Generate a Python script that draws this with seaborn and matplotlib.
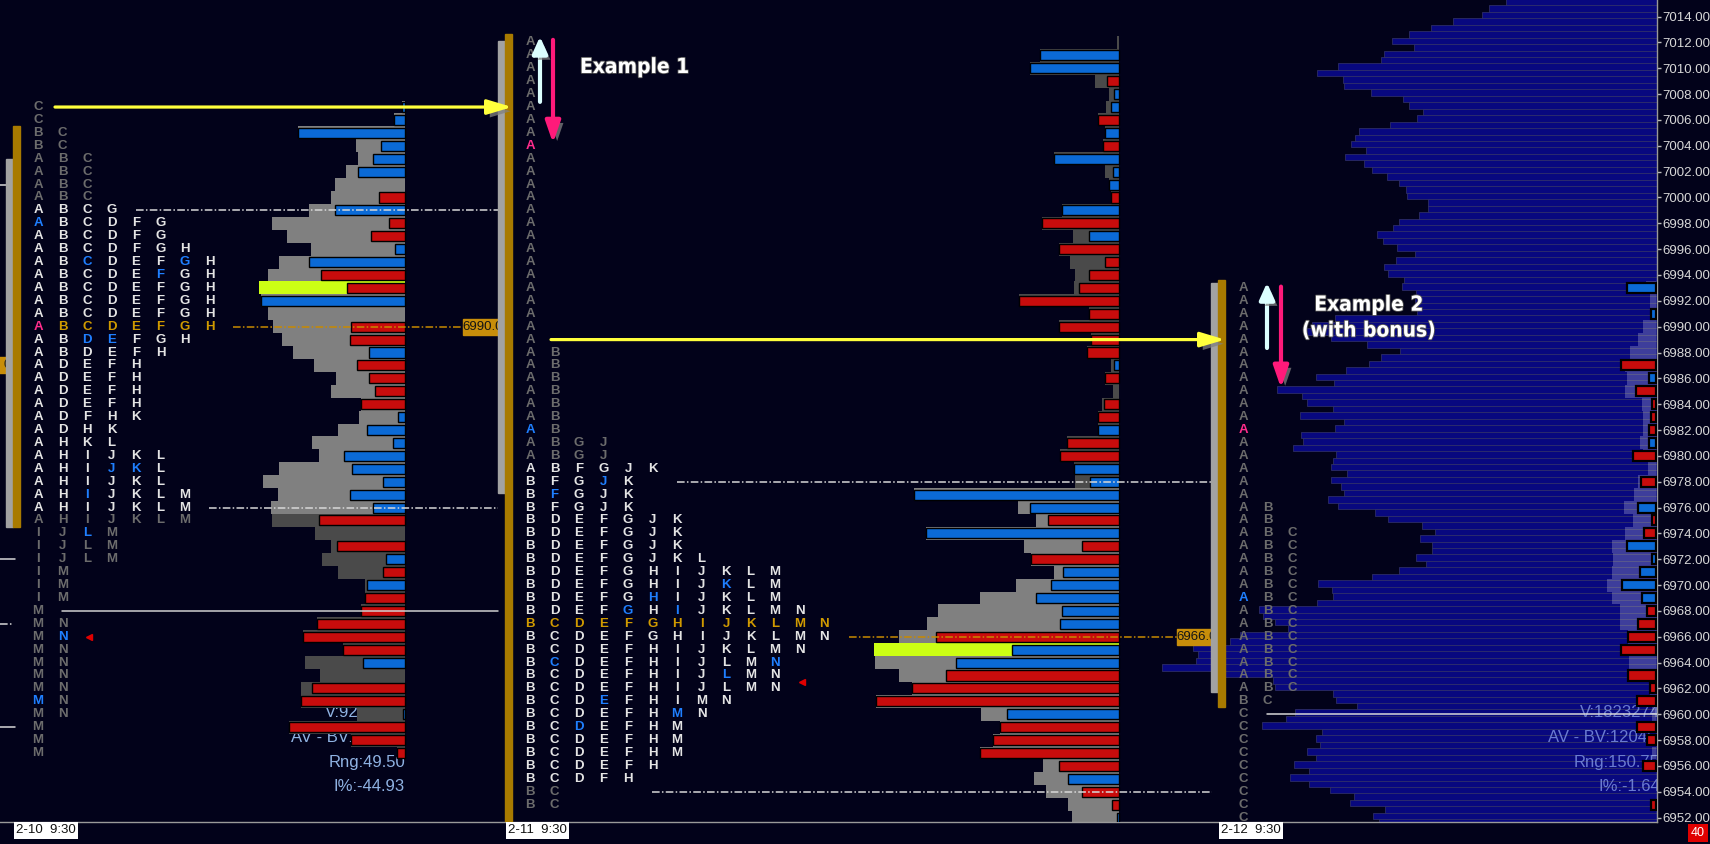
import numpy as np
import pandas as pd
import matplotlib
matplotlib.use("Agg")
import matplotlib.pyplot as plt
import matplotlib.patheffects as pe
from matplotlib.patches import Rectangle
import seaborn as sns

# ---- colours ----
BG = "#02021a"
NAVY = "#08087f"
NAVY_EDGE = "#34346c"
RED = "#c80c0c"
BLUE = "#0b6ad6"
LIGHT_GRAY = "#808080"
DARK_GRAY = "#4a4a4a"
POC_YELLOW = "#ccff14"
GOLD = "#a87a00"
LETTER_COLORS = {"d": "#6c6c6c", "w": "#e4e4e4", "b": "#1f7fff",
                 "p": "#ff2d8c", "g": "#d09a00"}

# ---- composite volume profile (0.5 pt rows, 7015.0 down to 6951.5) ----
COMPOSITE_TOP = 7015.0
COMPOSITE_VOL = [151, 168, 175, 204, 226, 248, 265, 243, 273, 276,
                 319, 340, 314, 313, 286, 254, 248, 234, 240, 267,
                 298, 302, 306, 291, 312, 293, 285, 270, 258, 251,
                 250, 229, 229, 238, 258, 264, 280, 274, 260, 242,
                 261, 273, 269, 253, 255, 241, 242, 242, 240, 322,
                 345, 352, 326, 290, 257, 276, 288, 311, 341, 323,
                 380, 355, 350, 324, 357, 313, 322, 356, 354, 364,
                 321, 324, 326, 310, 326, 316, 313, 329, 319, 282,
                 269, 235, 222, 237, 225, 225, 241, 231, 258, 285,
                 339, 325, 324, 340, 398, 394, 382, 369, 417, 427,
                 464, 459, 461, 495, 432, 384, 382, 324, 321, 300,
                 362, 371, 395, 335, 341, 337, 350, 341, 363, 348,
                 367, 348, 327, 303, 307, 272, 284, 278]

# ---- session 1 (2-10), rows from 7007 down ----
S1_TOP = 7007
S1_TPO = ["C", "C", "BC", "BC", "ABC", "ABC", "ABC", "ABC",
          "ABCG", "ABCDFG", "ABCDFG", "ABCDFGH", "ABCDEFGH", "ABCDEFGH",
          "ABCDEFGH", "ABCDEFGH", "ABCDEFGH", "ABCDEFGH",
          "ABDEFGH", "ABDEFH", "ADEFH", "ADEFH", "ADEFH", "ADEFH", "ADFHK",
          "ADHK", "AHKL", "AHIJKL",
          "AHIJKL", "AHIJKL", "AHIJKLM", "AHIJKLM", "AHIJKLM", "IJLM", "IJLM",
          "IJLM", "IM", "IM",
          "IM", "M", "MN", "MN", "MN", "MN", "MN", "MN", "MN", "MN",
          "M", "M", "M"]
S1_CLR = ["d", "d", "dd", "dd", "ddd", "ddd", "ddd", "ddd",
          "wwww", "bwwwww", "wwwwww", "wwwwwww", "wwbwwwbw", "wwwwwbww",
          "wwwwwwww", "wwwwwwww", "wwwwwwww", "pggggggg",
          "wwbbwww", "wwwwww", "wwwww", "wwwww", "wwwww", "wwwww", "wwwww",
          "wwww", "wwww", "wwwwww",
          "wwwbbw", "wwwwww", "wwbwwww", "wwwwwww", "ddddddd", "ddbd", "dddd",
          "dddd", "dd", "dd",
          "dd", "d", "dd", "db", "dd", "dd", "dd", "dd", "bd", "dd",
          "d", "d", "d"]
S1_TOTAL = [3, 11, 107, 49, 47, 59, 70, 74,
            96, 133, 118, 94, 126, 137, 146, 144, 137, 132,
            123, 112, 91, 69, 74, 44, 46, 67, 93, 86,
            126, 142, 127, 134, 133, 90, 74, 83, 67, 40,
            40, 44, 88, 102, 62, 100, 85, 104, 104, 48,
            116, 54, 8]
S1_DELTA = [3, 11, 107, 24, 32, 47, 0, -26,
            70, -16, -34, 10, 96, -84, -58, 144, 0, -54,
            -55, 36, -48, -36, -30, -44, 7, 38, 12, 61,
            53, 22, 55, 32, -86, 0, -68, 19, -22, 38,
            -40, -44, -88, -102, -62, 42, 0, -93, -104, 2,
            -116, -54, -8]

# ---- session 2 (2-11), rows from 7012 down ----
S2_TOP = 7012
S2_TPO = ["A"] * 24 + ["AB"] * 7 + ["ABGJ", "ABGJ", "ABFGJK",
          "BFGJK", "BFGJK", "BFGJK", "BDEFGJK", "BDEFGJK", "BDEFGJK",
          "BDEFGJKL", "BDEFGHIJKLM", "BDEFGHIJKLM", "BDEFGHIJKLM",
          "BDEFGHIJKLMN", "BCDEFGHIJKLMN", "BCDEFGHIJKLMN", "BCDEFHIJKLMN",
          "BCDEFHIJLMN", "BCDEFHIJLMN", "BCDEFHIJLMN", "BCDEFHIMN",
          "BCDEFHMN", "BCDEFHM", "BCDEFHM", "BCDEFHM", "BCDEFH", "BCDFH",
          "BC", "BC"]
S2_CLR = (["d"] * 8 + ["p"] + ["d"] * 15 + ["dd"] * 6 + ["bd", "dddd", "dddd",
          "wwwwww", "wwwbw", "wbwww", "wwwww", "wwwwwww", "wwwwwww",
          "wwwwwww", "wwwwwwww", "wwwwwwwwwww", "wwwwwwwwbww", "wwwwwbwwwww",
          "wwwwbwbwwwww", "ggggggggggggg", "wwwwwwwwwwwww", "wwwwwwwwwwww",
          "wbwwwwwwwwb", "wwwwwwwwbww", "wwwwwwwwwww", "wwwbwwwww",
          "wwwwwwbw", "wwbwwww", "wwwwwww", "wwwwwww", "wwwwww", "wwwww",
          "dd", "dd"])
S2_TOTAL = [2, 79, 89, 24, 10, 13, 21, 14, 16, 65,
            14, 10, 8, 57, 77, 46, 60, 49, 44, 45,
            100, 30, 60, 28, 32, 8, 14, 6, 17, 21,
            21, 52, 59, 45, 44, 205, 101, 83, 193, 95,
            88, 65, 103, 139, 181, 192, 220, 245, 244, 220,
            207, 243, 138, 119, 126, 139, 76, 85, 73, 51,
            47]
S2_DELTA = [0, 79, 89, -12, 5, 8, -21, 14, -16, 65,
            6, 10, -8, 57, -77, 30, -60, -14, -30, -40,
            -100, -30, -60, -28, -32, 5, -14, 0, -15, -21,
            21, -52, -59, 45, 29, 205, 89, -71, 193, -37,
            -88, 56, 68, 83, 57, 59, -183, 107, 163, -173,
            -207, -243, 112, -119, -126, -139, -60, 51, -37, -7,
            2]

# ---- session 3 (2-12), rows from 6993 down ----
S3_TOP = 6993
S3_TPO = ["A"] * 17 + ["AB"] * 2 + ["ABC"] * 13 + ["BC"] + ["C"] * 9
S3_CLR = (["d"] * 11 + ["p"] + ["d"] * 5 + ["dd"] * 2 + ["ddd"] * 5 + ["bdd"]
          + ["ddd"] * 7 + ["dd"] + ["d"] * 9)
S3_TOTAL = [10, 6, 6, 13, 18, 26, 31, 29, 31, 14,
            13, 13, 16, 13, 8, 18, 22, 32, 23, 31,
            44, 43, 44, 49, 44, 36, 36, 28, 28, 27,
            11, 6, 4, 4, 0, 0, 4, 0, 0, 0,
            0, 0]
S3_DELTA = [29, 0, 5, 0, 0, 0, -35, 7, -20, -4,
            -5, -7, 7, -23, 0, -15, 0, 18, -4, -12,
            29, 4, 16, 34, 14, -9, -18, -28, -35, 0,
            -28, -6, -19, 0, -19, -9, 0, -13, 0, 0,
            -5, 0]

DATES = ["2-10  9:30", "2-11  9:30", "2-12  9:30"]
S1_STATS = ["V:9254318", "AV - BV:-35219", "Rng:49.50", "I%:-44.93"]
S3_STATS = ["V:1823274", "AV - BV:12045", "Rng:150.75", "I%:-1.64"]
STAT_PRICES = [6960.1, 6958.2, 6956.3, 6954.4]

# ---- layout (pixel-like x units) ----
W, H = 1710, 844
X_AXIS = 1657
Y_TOP, Y_BOT = 7015.285, 6951.66
SESSION_X = [13, 505, 1218]
PROFILE_RIGHT = [405, 1119, 1656]
COL_W = 24.5

sns.set_theme(style="dark", rc={"axes.facecolor": BG, "figure.facecolor": BG})
plt.rcParams["font.family"] = ["Liberation Sans", "DejaVu Sans"]

fig = plt.figure(figsize=(W / 100, H / 100), dpi=100, facecolor=BG)
rect = [0, 22 / H, X_AXIS / W, 822 / H]

# back axes: composite profile, anchored on the price axis
ax_back = fig.add_axes(rect)
comp_prices = COMPOSITE_TOP - 0.5 * np.arange(len(COMPOSITE_VOL))
comp_df = pd.DataFrame({"price": comp_prices + 0.12, "vol": COMPOSITE_VOL})
sns.barplot(data=comp_df, x="vol", y="price", orient="h", native_scale=True,
            width=1.0, color=NAVY, saturation=1, edgecolor=NAVY_EDGE,
            linewidth=0.5, errorbar=None, ax=ax_back)
ax_back.set_xlim(X_AXIS, 0)
ax_back.set_ylim(Y_BOT, Y_TOP)
ax_back.axis("off")

# front axes
ax = fig.add_axes(rect)
ax.patch.set_visible(False)
ax.set_xlim(0, X_AXIS)
ax.set_ylim(Y_BOT, Y_TOP)


def draw_tpo(x0, top, rows, codes):
    for i, (letters, cc) in enumerate(zip(rows, codes)):
        for j, (ch, c) in enumerate(zip(letters, cc)):
            ax.text(x0 + 25 + COL_W * j, top - i, ch, color=LETTER_COLORS[c],
                    ha="center", va="center", fontsize=9.5, fontweight="bold",
                    zorder=5)


def draw_profile(right, top, total, delta, poc_price, light, translucent=False):
    prices = top - np.arange(len(total))
    total = np.array(total)
    delta = np.array(delta)
    for p, t in zip(prices, total):
        if t <= 0:
            continue
        if translucent:
            ax.barh(p, t, left=right - t, height=1.0, color="white", alpha=0.22,
                    linewidth=0, zorder=2)
        else:
            c = POC_YELLOW if p == poc_price else (LIGHT_GRAY if light(p) else DARK_GRAY)
            ax.barh(p, t, left=right - t, height=1.0, color=c, linewidth=0, zorder=2)
    lw = 1.6 if translucent else 1.0
    for p, d in zip(prices, delta):
        if d == 0:
            continue
        ax.barh(p, abs(d), left=right - abs(d), height=0.78,
                color=BLUE if d > 0 else RED, edgecolor="black", linewidth=lw,
                zorder=3)


draw_profile(PROFILE_RIGHT[0], S1_TOP, S1_TOTAL, S1_DELTA, 6993, lambda p: p >= 6976)
draw_profile(PROFILE_RIGHT[1], S2_TOP, S2_TOTAL, S2_DELTA, 6965, lambda p: p <= 6977)
draw_profile(PROFILE_RIGHT[2], S3_TOP, S3_TOTAL, S3_DELTA, None, None, translucent=True)

draw_tpo(SESSION_X[0], S1_TOP, S1_TPO, S1_CLR)
draw_tpo(SESSION_X[1], S2_TOP, S2_TPO, S2_CLR)
draw_tpo(SESSION_X[2], S3_TOP, S3_TPO, S3_CLR)

# session range bars (gray / gold)
bar_ranges = [((6974.5, 7003.0), (6974.5, 7005.5)),
              ((6977.1, 7012.1), (Y_BOT - 1, 7012.65)),
              ((6961.7, 6993.4), (6960.6, 6993.6))]
for x0, (gr, go) in zip(SESSION_X, bar_ranges):
    ax.add_patch(Rectangle((x0 - 7, gr[0]), 7, gr[1] - gr[0], color="#a2a2a2", zorder=7))
    ax.add_patch(Rectangle((x0, go[0]), 7, go[1] - go[0], color=GOLD, zorder=7))

# value area / poc lines
dashdot = (0, (5, 1.5, 1, 1.5))
lines = [(6999, 136, 498, "#d8d8d8", dashdot), (6976, 209, 498, "#d8d8d8", dashdot),
         (6990, 233, 463, "#c88a00", dashdot), (6968, 62, 498, "#d0d0d0", "-"),
         (6978, 677, 1211, "#d8d8d8", dashdot), (6954, 652, 1212, "#d8d8d8", dashdot),
         (6966, 849, 1177, "#c88a00", dashdot), (6960, 1267, X_AXIS, "#d8d8d8", "-"),
         (7001, 0, 13, "#d8d8d8", dashdot), (6972, 0, 15, "#d8d8d8", "-"),
         (6967, 0, 13, "#d8d8d8", dashdot), (6959, 0, 15, "#d8d8d8", "-")]
for p, xa, xb, c, ls in lines:
    ax.plot([xa, xb], [p, p], color=c, lw=1.1, ls=ls, zorder=4)

# poc price labels (previous day's label only shows its last digit)
for xl, p, txt in [(463, 6990, "6990.00"), (1177, 6966, "6966.00")]:
    ax.add_patch(Rectangle((xl, p - 0.62), 47, 1.24, color="#c88e0a", zorder=6))
    ax.text(xl + 23.5, p, txt, ha="center", va="center", fontsize=9.5,
            color="#151515", zorder=6)
ax.add_patch(Rectangle((-40, 6987 - 0.62), 53, 1.24, color="#c88e0a", zorder=6))
ax.text(7, 6987, "0", ha="center", va="center", fontsize=9.5, color="#151515", zorder=6)

# single prints markers
ax.plot([89, 802], [6966, 6962.5], ls="none", marker="<", ms=5, color="#e00000", zorder=5)

# session stats text (drawn under the bars)
for p, s in zip(STAT_PRICES, S1_STATS):
    ax.text(PROFILE_RIGHT[0], p, s, ha="right", va="center", fontsize=12,
            color="#8fb2e2", zorder=1)
for p, s, xs in zip(STAT_PRICES, S3_STATS, [1580, 1548, 1574, 1598]):
    ax.text(xs, p, s, ha="left", va="center", fontsize=12, color="#7b8fe0",
            alpha=0.85, zorder=1, clip_on=True)

# arrows with drop shadow
shadow = [pe.SimplePatchShadow(offset=(3, -3), shadow_rgbFace="#808080", alpha=0.75),
          pe.Normal()]


def arrow(x1, y1, x2, y2, color, lw, hw, hl):
    ann = ax.annotate("", xy=(x2, y2), xytext=(x1, y1), zorder=8,
                      arrowprops=dict(arrowstyle=f"-|>,head_width={hw},head_length={hl}",
                                      color=color, lw=lw, mutation_scale=10,
                                      shrinkA=0, shrinkB=0))
    ann.arrow_patch.set_path_effects(shadow)


arrow(55, 7007, 512, 7007, "#ffff3c", 2.3, 0.45, 1.5)
arrow(551, 6989, 1225, 6989, "#ffff3c", 2.3, 0.45, 1.5)
arrow(540, 7007.4, 540, 7012.45, "#dcffff", 3, 0.45, 1.0)
arrow(553, 7012.2, 553, 7004.2, "#ff1a7a", 3, 0.45, 1.3)
arrow(1267, 6988.35, 1267, 6993.4, "#dcffff", 3, 0.45, 1.0)
arrow(1281, 6993.1, 1281, 6985.25, "#ff1a7a", 3, 0.45, 1.3)

title_font = dict(family="DejaVu Sans", fontstretch="condensed", fontweight="bold",
                  fontsize=15, color="white", zorder=9,
                  path_effects=[pe.withStroke(linewidth=1.2, foreground="#555555")])
ax.text(580, 7010.1, "Example 1", ha="left", va="center", **title_font)
ax.text(1369, 6991.7, "Example 2", ha="center", va="center", **title_font)
ax.text(1369, 6989.7, "(with bonus)", ha="center", va="center", **title_font)

# axes styling
ax.set_xticks([])
ax.yaxis.tick_right()
ticks = np.arange(6952, 7015, 2)
ax.set_yticks(ticks)
ax.set_yticklabels([f"{t:.2f}" for t in ticks])
ax.tick_params(axis="y", colors="#bcbcbc", labelcolor="#d8d8d8", length=3,
               width=1, pad=1, labelsize=9.5)
for side in ["left", "top"]:
    ax.spines[side].set_visible(False)
ax.spines["right"].set_color("#9a9a9a")
ax.spines["bottom"].set_color("#9a9a9a")
ax.spines["right"].set_linewidth(1)
ax.spines["bottom"].set_linewidth(1)
ax.grid(False)

# date labels
for x0, d in zip(SESSION_X, DATES):
    ax.text(x0 + 3, -0.003, d, transform=ax.get_xaxis_transform(), ha="left",
            va="top", fontsize=9.5, color="#111111", clip_on=False,
            bbox=dict(fc="white", ec="none", pad=1.6))

fig.text(1698 / W, 11 / H, "40", ha="center", va="center", color="white",
         fontsize=9, bbox=dict(fc="#e00000", ec="none", pad=2))

fig.savefig("out.png", dpi=100, facecolor=BG)
